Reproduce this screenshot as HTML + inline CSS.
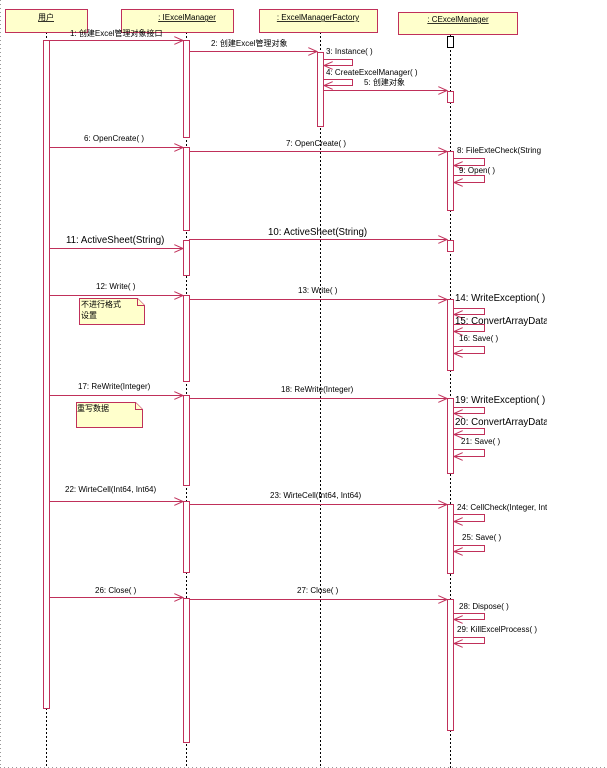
<!DOCTYPE html>
<html><head><meta charset="utf-8"><style>
html,body{margin:0;padding:0;background:#fff;width:607px;height:768px;overflow:hidden}
text{font-family:"Liberation Sans","Noto Sans CJK SC",sans-serif;fill:#000}
.s{font-size:8px}.l{font-size:9.7px}
</style></head><body>
<svg width="607" height="768" xmlns="http://www.w3.org/2000/svg">
<defs>
<marker id="a" markerWidth="10" markerHeight="8" refX="9" refY="4" orient="auto" markerUnits="userSpaceOnUse"><path d="M0,0 L9,4 L0,8" fill="none" stroke="#c0305a" stroke-width="1"/></marker>
<clipPath id="c"><rect x="0" y="0" width="547" height="768"/></clipPath>
</defs>
<line x1="0.5" y1="0" x2="0.5" y2="768" stroke="#999" stroke-dasharray="1,3"/>
<line x1="0" y1="767.5" x2="607" y2="767.5" stroke="#999" stroke-dasharray="1,3"/>
<g stroke="#000" stroke-dasharray="2,2" stroke-width="1">
<line x1="46.5" y1="32" x2="46.5" y2="768"/>
<line x1="186.5" y1="32" x2="186.5" y2="768"/>
<line x1="320.5" y1="32" x2="320.5" y2="768"/>
<line x1="450.5" y1="34" x2="450.5" y2="768"/>
</g>
<g fill="#ffffcc" stroke="#c0305a" stroke-width="1">
<rect x="5.5" y="9.5" width="82" height="23"/>
<rect x="121.5" y="9.5" width="112" height="23"/>
<rect x="259.5" y="9.5" width="118" height="23"/>
<rect x="398.5" y="12.5" width="119" height="22"/>
</g>
<g class="s" text-anchor="middle" text-decoration="underline">
<text x="46" y="20">用户</text>
<text x="187" y="20">: IExcelManager</text>
<text x="318" y="20">: ExcelManagerFactory</text>
<text x="458" y="22">: CExcelManager</text>
</g>
<g fill="#fff" stroke="#c0305a" stroke-width="1">
<rect x="43.5" y="40.5" width="6" height="668"/>
<rect x="183.5" y="40.5" width="6" height="97"/>
<rect x="183.5" y="147.5" width="6" height="83"/>
<rect x="183.5" y="240.5" width="6" height="35"/>
<rect x="183.5" y="295.5" width="6" height="86"/>
<rect x="183.5" y="395.5" width="6" height="90"/>
<rect x="183.5" y="501.5" width="6" height="71"/>
<rect x="183.5" y="598.5" width="6" height="144"/>
<rect x="317.5" y="52.5" width="6" height="74"/>
<rect x="447.5" y="36.5" width="6" height="11" stroke="#000"/>
<rect x="447.5" y="91.5" width="6" height="11"/>
<rect x="447.5" y="151.5" width="6" height="59"/>
<rect x="447.5" y="240.5" width="6" height="11"/>
<rect x="447.5" y="299.5" width="6" height="71"/>
<rect x="447.5" y="398.5" width="6" height="75"/>
<rect x="447.5" y="504.5" width="6" height="69"/>
<rect x="447.5" y="599.5" width="6" height="131"/>
</g>
<g stroke="#c0305a" stroke-width="1" fill="none" marker-end="url(#a)">
<line x1="49" y1="40.5" x2="183" y2="40.5"/>
<line x1="189" y1="51.5" x2="317" y2="51.5"/>
<line x1="323" y1="90.5" x2="447" y2="90.5"/>
<line x1="49" y1="147.5" x2="183" y2="147.5"/>
<line x1="189" y1="151.5" x2="447" y2="151.5"/>
<line x1="189" y1="239.5" x2="447" y2="239.5"/>
<line x1="49" y1="248.5" x2="183" y2="248.5"/>
<line x1="49" y1="295.5" x2="183" y2="295.5"/>
<line x1="189" y1="299.5" x2="447" y2="299.5"/>
<line x1="49" y1="395.5" x2="183" y2="395.5"/>
<line x1="189" y1="398.5" x2="447" y2="398.5"/>
<line x1="49" y1="501.5" x2="183" y2="501.5"/>
<line x1="189" y1="504.5" x2="447" y2="504.5"/>
<line x1="49" y1="597.5" x2="183" y2="597.5"/>
<line x1="189" y1="599.5" x2="447" y2="599.5"/>
<path d="M323,59.5 H352.5 V65.5 H324"/>
<path d="M323,79.5 H352.5 V85.5 H324"/>
<path d="M453,158.5 H484.5 V165.5 H454"/>
<path d="M453,175.5 H484.5 V182.5 H454"/>
<path d="M453,308.5 H484.5 V314.5 H454"/>
<path d="M453,324.5 H484.5 V331.5 H454"/>
<path d="M453,346.5 H484.5 V353.5 H454"/>
<path d="M453,407.5 H484.5 V413.5 H454"/>
<path d="M453,428.5 H484.5 V434.5 H454"/>
<path d="M453,449.5 H484.5 V456.5 H454"/>
<path d="M453,514.5 H484.5 V521.5 H454"/>
<path d="M453,545.5 H484.5 V551.5 H454"/>
<path d="M453,613.5 H484.5 V619.5 H454"/>
<path d="M453,637.5 H484.5 V643.5 H454"/>
</g>
<g fill="#ffffcc" stroke="#c0305a" stroke-width="1">
<path d="M79.5,298.5 H137.5 L144.5,305.5 V324.5 H79.5 Z"/>
<path d="M137.5,298.5 V305.5 H144.5"/>
<path d="M76.5,402.5 H135.5 L142.5,409.5 V427.5 H76.5 Z"/>
<path d="M135.5,402.5 V409.5 H142.5"/>
</g>
<g class="s">
<text x="81" y="307">不进行格式</text>
<text x="81" y="318">设置</text>
<text x="77" y="411">重写数据</text>
</g>
<g clip-path="url(#c)">
<g class="s">
<text x="70" y="36">1: 创建Excel管理对象接口</text>
<text x="211" y="46">2: 创建Excel管理对象</text>
<text x="326" y="54">3: Instance( )</text>
<text x="326" y="75">4: CreateExcelManager( )</text>
<text x="364" y="85">5: 创建对象</text>
<text x="84" y="141">6: OpenCreate( )</text>
<text x="286" y="146">7: OpenCreate( )</text>
<text x="457" y="153">8: FileExteCheck(String</text>
<text x="459" y="173">9: Open( )</text>
<text x="96" y="289">12: Write( )</text>
<text x="298" y="293">13: Write( )</text>
<text x="459" y="341">16: Save( )</text>
<text x="78" y="389">17: ReWrite(Integer)</text>
<text x="281" y="392">18: ReWrite(Integer)</text>
<text x="461" y="444">21: Save( )</text>
<text x="65" y="492">22: WirteCell(Int64, Int64)</text>
<text x="270" y="498">23: WirteCell(Int64, Int64)</text>
<text x="457" y="510">24: CellCheck(Integer, Integer)</text>
<text x="462" y="540">25: Save( )</text>
<text x="95" y="593">26: Close( )</text>
<text x="297" y="593">27: Close( )</text>
<text x="459" y="609">28: Dispose( )</text>
<text x="457" y="632">29: KillExcelProcess( )</text>
</g>
<g class="l">
<text x="268" y="235">10: ActiveSheet(String)</text>
<text x="66" y="243">11: ActiveSheet(String)</text>
<text x="455" y="301">14: WriteException( )</text>
<text x="455" y="324">15: ConvertArrayData</text>
<text x="455" y="403">19: WriteException( )</text>
<text x="455" y="425">20: ConvertArrayData</text>
</g>
</g>
</svg>
</body></html>
